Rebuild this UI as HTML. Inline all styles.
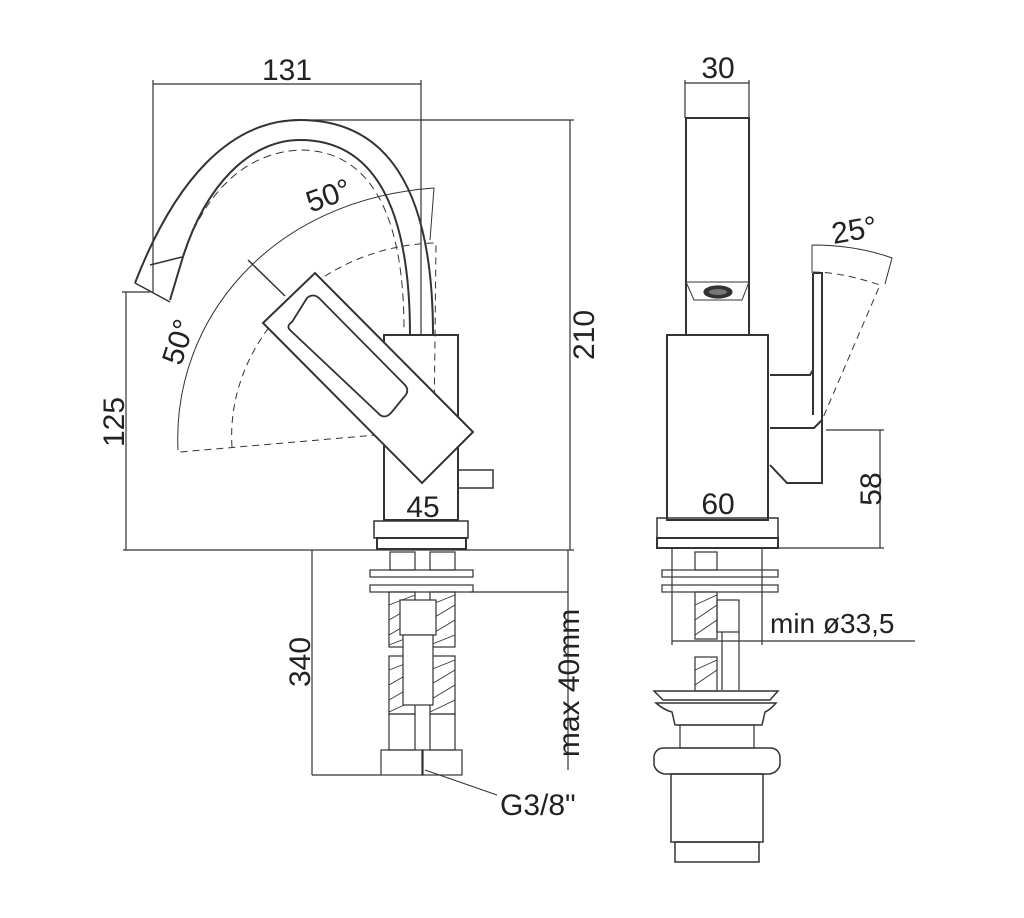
<!DOCTYPE html>
<html><head><meta charset="utf-8"><style>
html,body{margin:0;padding:0;background:#fff;}
svg{display:block}
text{font-family:"Liberation Sans",sans-serif;fill:#222;}
</style></head><body>
<svg width="1024" height="918" viewBox="0 0 1024 918" xmlns="http://www.w3.org/2000/svg">
<g fill="none" stroke="#333" stroke-width="1.2">
<line x1="153" y1="84" x2="421" y2="84"/>
<line x1="153" y1="80" x2="153" y2="292"/>
<line x1="421" y1="80" x2="421" y2="335"/>
<line x1="300" y1="120" x2="574" y2="120"/>
<line x1="570" y1="120" x2="570" y2="550"/>
<line x1="123" y1="550" x2="574" y2="550"/>
<line x1="122" y1="292" x2="150" y2="292"/>
<line x1="126" y1="292" x2="126" y2="550"/>
<path d="M135 283 C175 180,230 120,300 120 C385 120,433 185,433 335" stroke-width="2"/>
<path d="M170 300 L182 260 C205 185,250 140,300 140 C370 140,410 200,410 335" stroke-width="2"/>
<path d="M135 283 L170 302 M150 265 L182 257" stroke-width="1.5"/>
<path d="M183 255 C210 180,255 152,300 150 C365 150,404 205,404 330" stroke-width="1" stroke-dasharray="8,5"/>
<path d="M178 450 C172 320,270 200,434 188 L430 240" stroke-width="1"/>
<path d="M232 447 C225 340,320 245,436 243 L434 430 L180 452" stroke-width="1" stroke-dasharray="7,5"/>
<line x1="248" y1="260" x2="285" y2="296" stroke-width="1.5"/>
<rect x="384" y="335" width="74" height="185" stroke-width="2"/>
<rect x="374" y="521" width="94" height="17" stroke-width="1.5"/>
<rect x="377" y="538" width="89" height="11" stroke-width="2"/>
<rect x="458" y="470" width="35" height="18" stroke-width="1.5"/>
<polygon points="263,323 315,273 473,432 422,483" fill="#fff" stroke-width="2"/>
<path d="M292 322 L307 298 Q313 293 319 298 L405 385 Q410 391 404 397 L391 413 Q384 420 378 413 L290 330 Q286 326 292 322Z" stroke-width="1.8"/>
<rect x="370" y="570" width="103" height="7"/>
<rect x="370" y="585" width="103" height="7"/>
<rect x="390" y="552" width="25" height="18"/><rect x="430" y="552" width="25" height="18"/>
<rect x="389" y="592" width="26" height="55"/><rect x="430" y="592" width="25" height="55"/>
<rect x="389" y="656" width="26" height="58"/><rect x="430" y="656" width="25" height="58"/>
<path d="M389 605 L415 595 M389 620 L415 605 M389 635 L415 620 M389 645 L415 635 M430 605 L455 595 M430 620 L455 605 M430 635 L455 620 M430 645 L455 635 M389 670 L415 660 M389 685 L415 670 M389 700 L415 685 M389 712 L415 700 M430 670 L455 660 M430 685 L455 670 M430 700 L455 685 M430 712 L455 700" stroke-width="0.9"/>
<rect x="400" y="600" width="36" height="35" fill="#fff"/>
<rect x="403" y="635" width="30" height="70" fill="#fff"/>
<rect x="389" y="714" width="26" height="36"/><rect x="430" y="714" width="25" height="36"/>
<rect x="381" y="750" width="42" height="25"/><rect x="422" y="750" width="40" height="25"/>
<line x1="312" y1="550" x2="312" y2="775"/>
<line x1="312" y1="775" x2="381" y2="775"/>
<line x1="568" y1="550" x2="568" y2="770"/>
<line x1="470" y1="592" x2="568" y2="592"/>
<line x1="425" y1="770" x2="497" y2="795" stroke-width="1"/>
<line x1="685" y1="83" x2="749" y2="83"/>
<line x1="685" y1="80" x2="685" y2="118"/><line x1="749" y1="80" x2="749" y2="118"/>
<rect x="686" y="118" width="63" height="217" stroke-width="2"/>
<path d="M686 282 L749 282 L742 300 L694 300Z" stroke-width="1"/>
<ellipse cx="718" cy="292" rx="14" ry="6" fill="#333"/>
<ellipse cx="718" cy="292" rx="9" ry="3" fill="#777" stroke="none"/>
<rect x="667" y="335" width="101" height="185" stroke-width="2"/>
<rect x="657" y="518" width="121" height="20" stroke-width="1.5"/>
<rect x="657" y="538" width="121" height="10" stroke-width="2"/>
<path d="M813 273 L822 273 L822 483 L787 483 L770 465 M770 375 L810 375 L813 370 M770 428 L814 428 L822 420 M813 273 L813 415" stroke-width="2"/>
<path d="M812 245 C845 245,870 250,892 258 L885 284 M812 245 L812 273" stroke-width="1"/>
<path d="M813 272 C838 272,865 280,880 285 L822 420" stroke-width="1" stroke-dasharray="7,5"/>
<line x1="826" y1="430" x2="884" y2="430"/>
<line x1="880" y1="430" x2="880" y2="548"/>
<line x1="778" y1="548" x2="884" y2="548"/>
<rect x="662" y="570" width="116" height="7"/>
<rect x="662" y="585" width="116" height="7"/>
<line x1="672" y1="548" x2="672" y2="645"/><line x1="762" y1="548" x2="762" y2="645"/>
<rect x="695" y="552" width="22" height="18"/>
<rect x="695" y="592" width="22" height="47"/><rect x="695" y="657" width="22" height="34"/>
<path d="M695 605 L717 595 M695 620 L717 605 M695 635 L717 620 M695 670 L717 660 M695 685 L717 670" stroke-width="0.9"/>
<rect x="717" y="600" width="22" height="32"/>
<line x1="722" y1="632" x2="722" y2="690"/><line x1="739" y1="632" x2="739" y2="690"/>
<line x1="672" y1="641" x2="915" y2="641"/>
<path d="M654 691 L778 691 L770 700 L663 700Z" stroke-width="1.5"/>
<path d="M656 703 L776 703 Q770 710 765 712 L762 725 L675 725 L672 712 Q664 710 656 703Z" stroke-width="1.5"/>
<rect x="680" y="725" width="74" height="23"/>
<path d="M664 748 L770 748 Q778 748 780 756 L780 765 Q778 772 770 774 L664 774 Q656 772 654 765 L654 756 Q656 748 664 748Z" stroke-width="1.5"/>
<rect x="671" y="774" width="92" height="68" stroke-width="1.5"/>
<rect x="675" y="842" width="84" height="20" stroke-width="1.5"/>
</g>
<g font-size="30">
<text x="287" y="80" text-anchor="middle">131</text>
<text x="718" y="78" text-anchor="middle">30</text>
<text x="423" y="517" text-anchor="middle">45</text>
<text x="718" y="514" text-anchor="middle">60</text>
<text transform="translate(332 205) rotate(-20)" text-anchor="middle">50°</text>
<text transform="translate(188 345) rotate(-72)" text-anchor="middle">50°</text>
<text transform="translate(856 240) rotate(-10)" text-anchor="middle">25°</text>
<text transform="translate(594 335) rotate(-90)" text-anchor="middle">210</text>
<text transform="translate(124 422) rotate(-90)" text-anchor="middle">125</text>
<text transform="translate(881 489) rotate(-90)" text-anchor="middle">58</text>
<text transform="translate(310 662) rotate(-90)" text-anchor="middle">340</text>
<text transform="translate(579 683) rotate(-90)" text-anchor="middle">max 40mm</text>
<text x="500" y="815">G3/8"</text>
<text x="770" y="633" font-size="28">min ø33,5</text>
</g>
</svg>
</body></html>
